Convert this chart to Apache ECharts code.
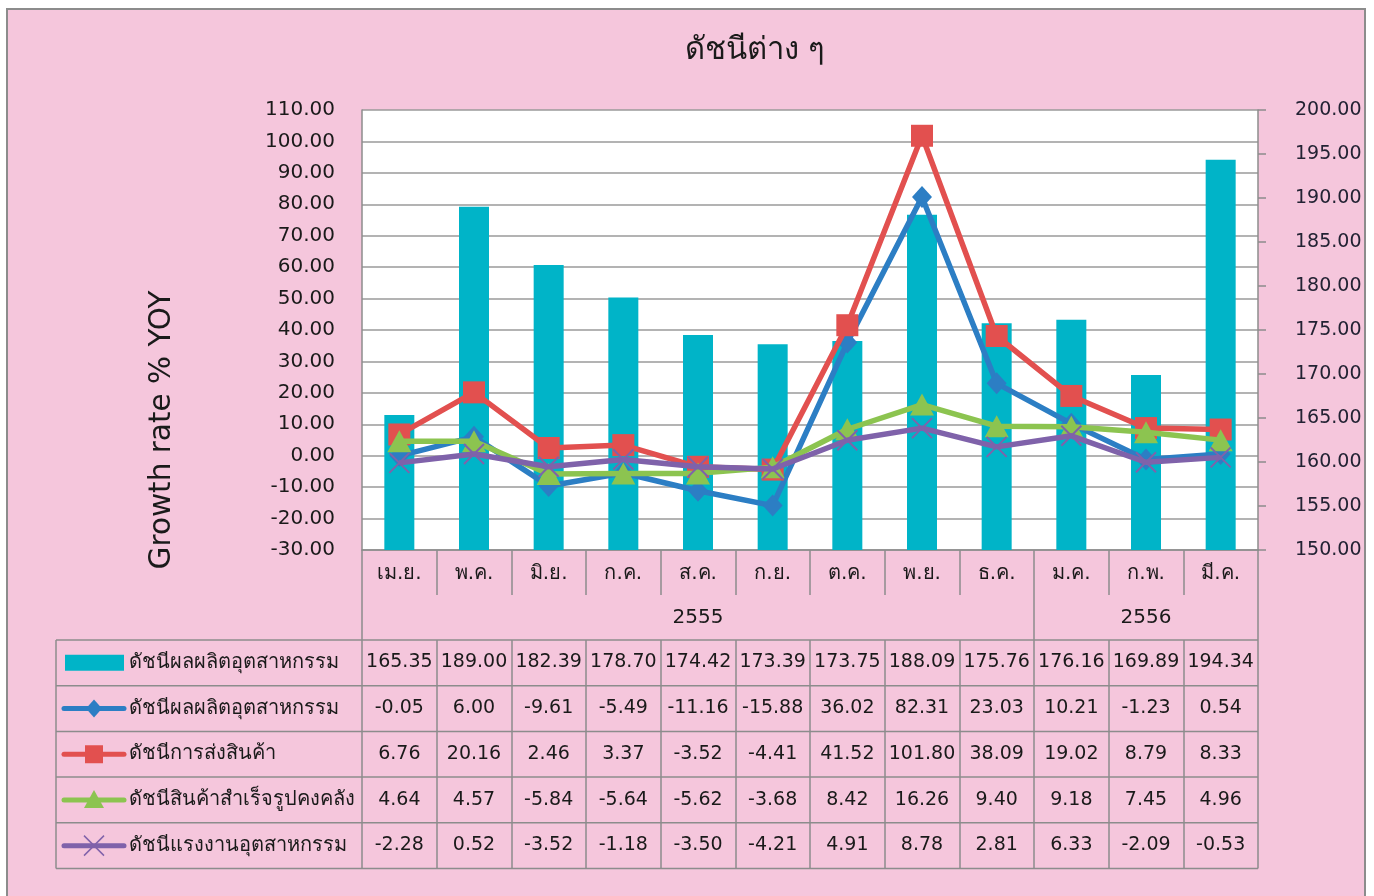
<!DOCTYPE html>
<html><head><meta charset="utf-8">
<script src="https://cdn.jsdelivr.net/npm/echarts@6/dist/echarts.min.js"></script>
<style>
html,body{margin:0;padding:0;background:#fff;overflow:hidden;}
#frame{position:absolute;left:6px;top:8px;width:1360px;height:900px;background:#F5C6DC;border:2px solid #8c8c8c;box-sizing:border-box;}
#main{position:absolute;left:0;top:0;width:1374px;height:896px;}
</style></head><body><div id="frame"></div><div id="main"></div>
<script>
const titleText = 'ดัชนีต่าง ๆ';
const yAxisTitle = 'Growth rate % YOY';
const months = ['เม.ย.','พ.ค.','มิ.ย.','ก.ค.','ส.ค.','ก.ย.','ต.ค.','พ.ย.','ธ.ค.','ม.ค.','ก.พ.','มี.ค.'];
const yearGroups = [['2555', 9], ['2556', 3]];
const seriesNames = ['ดัชนีผลผลิตอุตสาหกรรม','ดัชนีผลผลิตอุตสาหกรรม','ดัชนีการส่งสินค้า','ดัชนีสินค้าสำเร็จรูปคงคลัง','ดัชนีแรงงานอุตสาหกรรม'];
const prodIndex   = [165.35,189.00,182.39,178.70,174.42,173.39,173.75,188.09,175.76,176.16,169.89,194.34];
const prodGrowth  = [-0.05,6.00,-9.61,-5.49,-11.16,-15.88,36.02,82.31,23.03,10.21,-1.23,0.54];
const shipGrowth  = [6.76,20.16,2.46,3.37,-3.52,-4.41,41.52,101.80,38.09,19.02,8.79,8.33];
const invGrowth   = [4.64,4.57,-5.84,-5.64,-5.62,-3.68,8.42,16.26,9.40,9.18,7.45,4.96];
const laborGrowth = [-2.28,0.52,-3.52,-1.18,-3.50,-4.21,4.91,8.78,2.81,6.33,-2.09,-0.53];
const leftScale  = [-30, 110, 10];
const rightScale = [150, 200, 5];

const colors = ['#00B4C8', '#2C7EC4', '#E2504F', '#8CC450', '#7F62AA'];
const FONT = "Tahoma, 'DejaVu Sans', sans-serif";
const TXT = '#1a1a1a';
const LINE = '#8c8c8c';

const rows = [prodIndex, prodGrowth, shipGrowth, invGrowth, laborGrowth];

// layout
const G = {left: 362, right: 1258, top: 110, bottom: 550};
const catRowH = 45, tableTop = 640, rowH = 45.7, legendLeft = 56;

// year group labels / boundaries
const yearLabelAt = {}, yearBounds = {};
let acc = 0;
yearGroups.forEach(([lab, n]) => { yearBounds[acc] = true; yearLabelAt[acc + (n - 1) / 2] = lab; acc += n; });

const chart = echarts.init(document.getElementById('main'), null, {renderer: 'canvas'});

const xAxes = [
  {type: 'category', data: months, gridIndex: 0, position: 'bottom',
   axisLine: {show: true, onZero: false, lineStyle: {color: LINE, width: 1.5}},
   axisTick: {show: true, length: catRowH, lineStyle: {color: LINE, width: 1.5}},
   axisLabel: {margin: 14, fontSize: 20, color: TXT, fontFamily: FONT, interval: 0},
   splitLine: {show: false}},
  {type: 'category', data: months, gridIndex: 0, position: 'bottom', offset: catRowH,
   axisLine: {show: false, onZero: false},
   axisTick: {show: true, length: catRowH, interval: (i) => !!yearBounds[i], lineStyle: {color: LINE, width: 1.5}},
   axisLabel: {margin: 13, fontSize: 20, color: TXT, fontFamily: FONT, interval: 0,
     formatter: (v, i) => yearLabelAt[i] || ''},
   splitLine: {show: false}}
];
rows.forEach((r, k) => {
  xAxes.push({type: 'category', data: r.map(v => v.toFixed(2)), gridIndex: 0, position: 'bottom',
    offset: 2 * catRowH + rowH * k,
    axisLine: {show: false, onZero: false},
    axisTick: {show: true, length: rowH, lineStyle: {color: LINE, width: 1.5}},
    axisLabel: {margin: 13, fontSize: 19, color: TXT, fontFamily: FONT, interval: 0},
    splitLine: {show: false}});
});

const crossPath = 'path://M0,0L20,20M20,0L0,20';
const lineSeries = [
  {data: prodGrowth, symbol: 'diamond', size: [20, 22]},
  {data: shipGrowth, symbol: 'rect', size: 22},
  {data: invGrowth, symbol: 'triangle', size: [24, 22]},
  {data: laborGrowth, symbol: crossPath, size: 20}
].map((s, i) => ({
  type: 'line', name: seriesNames[i + 1], data: s.data, xAxisIndex: 0, yAxisIndex: 0,
  symbol: s.symbol, symbolSize: s.size, showAllSymbol: true,
  lineStyle: {color: colors[i + 1], width: 5.5},
  itemStyle: i === 3 ? {color: 'rgba(0,0,0,0)', borderColor: colors[4], borderWidth: 2}
                     : {color: colors[i + 1], borderWidth: 0},
  z: 3 + i
}));

// legend column graphics
const graphics = [];
for (let k = 0; k <= rows.length; k++) {
  const y = tableTop + rowH * k;
  graphics.push({type: 'line', shape: {x1: legendLeft, y1: y, x2: G.right, y2: y}, style: {stroke: LINE, lineWidth: 1.5}, z: 10});
}
graphics.push({type: 'line', shape: {x1: legendLeft, y1: tableTop, x2: legendLeft, y2: tableTop + rowH * rows.length}, style: {stroke: LINE, lineWidth: 1.5}, z: 10});
rows.forEach((r, k) => {
  const cy = tableTop + rowH * (k + 0.5);
  const sx = 64, ex = 124, mx = 94;
  const c = colors[k];
  if (k === 0) {
    graphics.push({type: 'rect', shape: {x: 65, y: cy - 8, width: 59, height: 16}, style: {fill: c}, z: 11});
  } else {
    graphics.push({type: 'line', shape: {x1: sx, y1: cy, x2: ex, y2: cy}, style: {stroke: c, lineWidth: 5, lineCap: 'round'}, z: 11});
    if (k === 1) graphics.push({type: 'polygon', shape: {points: [[mx, cy - 9], [mx + 8, cy], [mx, cy + 9], [mx - 8, cy]]}, style: {fill: c}, z: 12});
    if (k === 2) graphics.push({type: 'rect', shape: {x: mx - 9, y: cy - 9, width: 18, height: 18}, style: {fill: c}, z: 12});
    if (k === 3) graphics.push({type: 'polygon', shape: {points: [[mx, cy - 10], [mx + 10, cy + 8], [mx - 10, cy + 8]]}, style: {fill: c}, z: 12});
    if (k === 4) {
      graphics.push({type: 'line', shape: {x1: mx - 10, y1: cy - 10, x2: mx + 10, y2: cy + 10}, style: {stroke: c, lineWidth: 1.5}, z: 12});
      graphics.push({type: 'line', shape: {x1: mx + 10, y1: cy - 10, x2: mx - 10, y2: cy + 10}, style: {stroke: c, lineWidth: 1.5}, z: 12});
    }
  }
  graphics.push({type: 'text', x: 129, y: cy, style: {text: seriesNames[k], fontSize: 20, fontFamily: FONT, fill: TXT, verticalAlign: 'middle', align: 'left'}, z: 12});
});
// rotated y-axis title
graphics.push({type: 'text', x: 162, y: 430, rotation: Math.PI / 2,
  style: {text: yAxisTitle, fontSize: 29.5, fontFamily: FONT, fill: TXT, align: 'center', verticalAlign: 'middle'}, z: 12});

chart.setOption({
  animation: false,
  backgroundColor: 'transparent',
  textStyle: {fontFamily: FONT},
  title: {text: titleText, left: 750, top: 30, textAlign: 'center',
    textStyle: {fontSize: 31, fontWeight: 'normal', color: TXT, fontFamily: FONT}},
  grid: {left: G.left, right: 1374 - G.right, top: G.top, bottom: 896 - G.bottom,
    show: true, backgroundColor: '#ffffff', borderWidth: 0, containLabel: false, outerBoundsMode: 'none'},
  xAxis: xAxes,
  yAxis: [
    {type: 'value', min: leftScale[0], max: leftScale[1], interval: leftScale[2], position: 'left',
     axisLine: {show: true, lineStyle: {color: LINE, width: 1.5}},
     axisTick: {show: false},
     axisLabel: {margin: 27, fontSize: 20, color: TXT, fontFamily: FONT, formatter: v => v.toFixed(2)},
     splitLine: {show: true, lineStyle: {color: '#9a9a9a', width: 1.5}}},
    {type: 'value', min: rightScale[0], max: rightScale[1], interval: rightScale[2], position: 'right',
     axisLine: {show: true, lineStyle: {color: LINE, width: 1.5}},
     axisTick: {show: true, length: 8, lineStyle: {color: LINE, width: 1.5}},
     axisLabel: {margin: 37, fontSize: 19, color: '#222233', fontFamily: FONT, formatter: v => v.toFixed(2)},
     splitLine: {show: false}}
  ],
  series: [
    {type: 'bar', name: seriesNames[0], data: prodIndex, xAxisIndex: 0, yAxisIndex: 1,
     barWidth: 30, itemStyle: {color: colors[0]}, z: 2}
  ].concat(lineSeries),
  graphic: graphics
});
</script></body></html>
